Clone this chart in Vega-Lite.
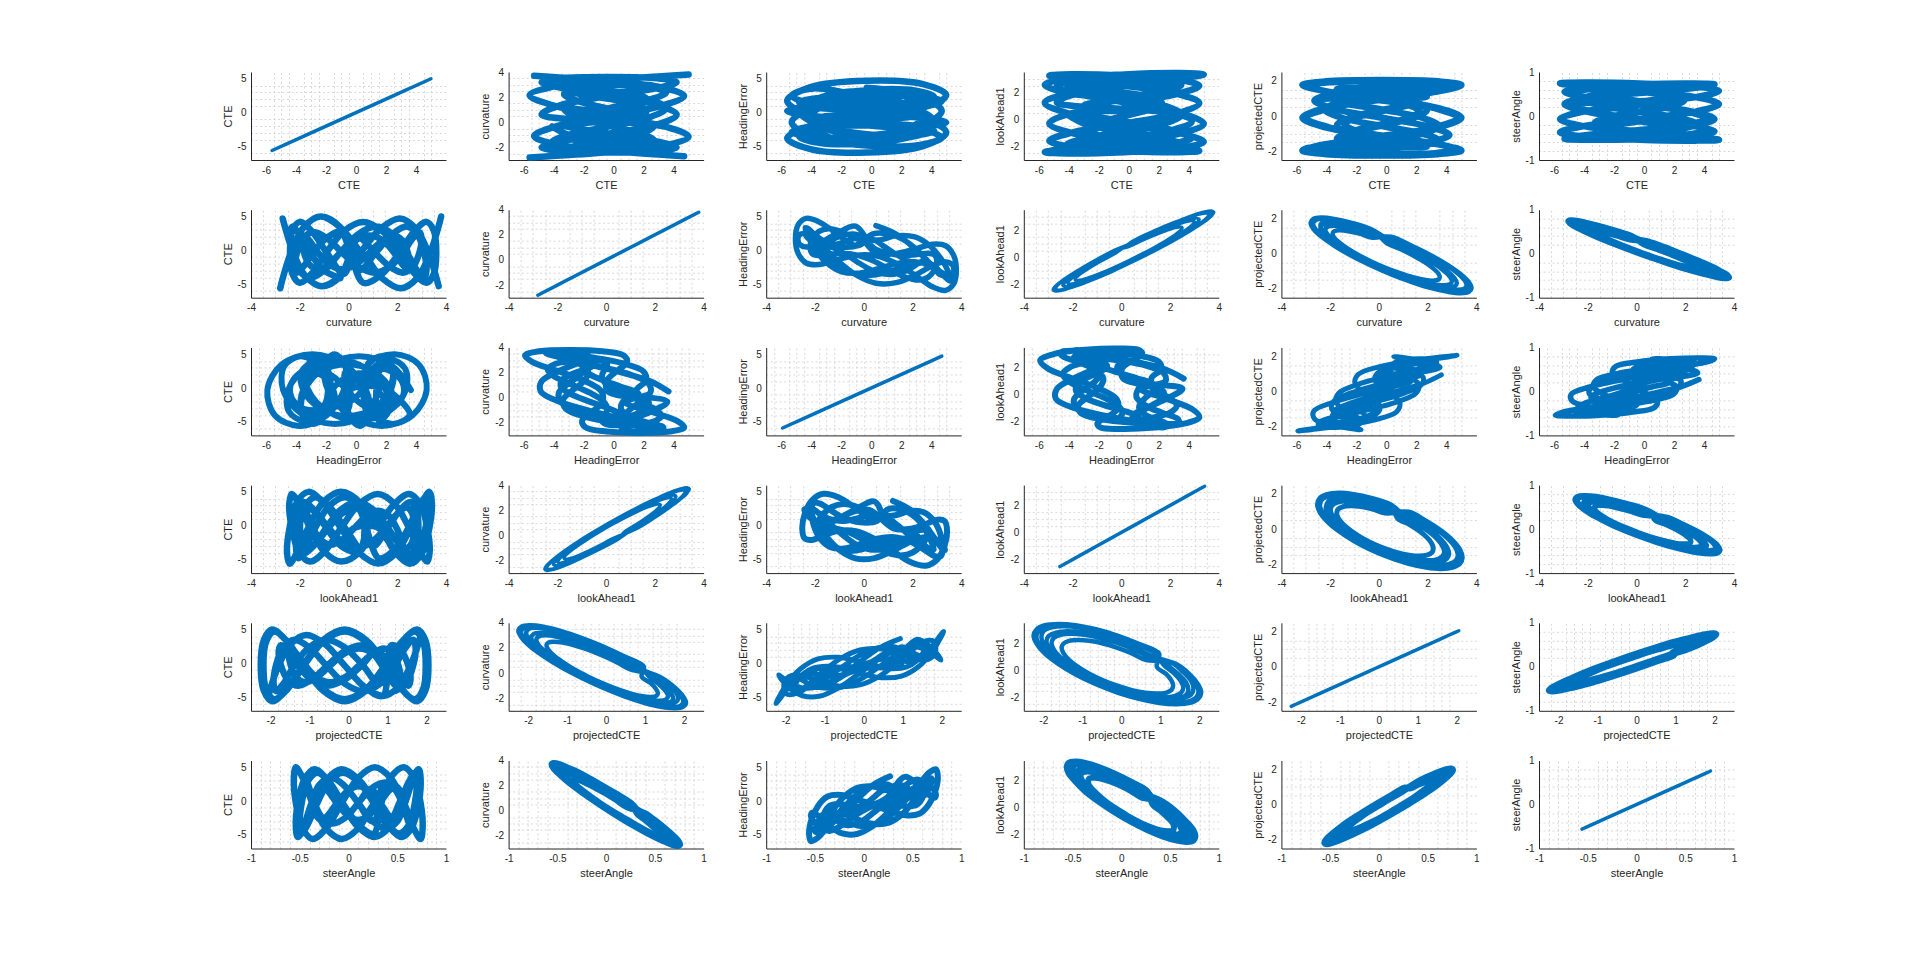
{
  "$schema": "https://vega.github.io/schema/vega-lite/v6.json",
  "background": "white",
  "padding": {"left": 222, "top": 67, "right": 10, "bottom": 10},
  "params": [
    {"name": "xm_CTE", "value": [-5.5,-5,-4.5,-3.5,-3,-2.5,-1.5,-1,-0.5,0.5,1,1.5,2.5,3,3.5,4.5,5]},
    {"name": "xm_curvature", "value": [-3.5,-3,-2.5,-1.5,-1,-0.5,0.5,1,1.5,2.5,3,3.5]},
    {"name": "xm_HeadingError", "value": [-6.5,-5.5,-5,-4.5,-3.5,-3,-2.5,-1.5,-1,-0.5,0.5,1,1.5,2.5,3,3.5,4.5,5]},
    {"name": "xm_lookAhead1", "value": [-3.5,-3,-2.5,-1.5,-1,-0.5,0.5,1,1.5,2.5,3,3.5]},
    {"name": "xm_projectedCTE", "value": [-2.2,-1.8,-1.6,-1.4,-1.2,-0.8,-0.6,-0.4,-0.2,0.2,0.4,0.6,0.8,1.2,1.4,1.6,1.8]},
    {"name": "xm_steerAngle", "value": [-0.9,-0.8,-0.7,-0.6,-0.4,-0.3,-0.2,-0.1,0.1,0.2,0.3,0.4,0.6,0.7,0.8,0.9]},
    {"name": "ym_CTE", "value": [-6,-4,-3,-2,-1,1,2,3,4]},
    {"name": "ym_curvature", "value": [-2.5,-1.5,-1,-0.5,0.5,1,1.5,2.5,3,3.5]},
    {"name": "ym_HeadingError", "value": [-6,-4,-3,-2,-1,1,2,3,4]},
    {"name": "ym_lookAhead1", "value": [-2.5,-1.5,-1,-0.5,0.5,1,1.5,2.5,3]},
    {"name": "ym_projectedCTE", "value": [-1.5,-1,-0.5,0.5,1,1.5]},
    {"name": "ym_steerAngle", "value": [-0.8,-0.6,-0.4,-0.2,0.2,0.4,0.6,0.8]},
    {"name": "xM_CTE", "value": [-6,-4,-2,0,2,4]},
    {"name": "xM_curvature", "value": [-4,-2,0,2,4]},
    {"name": "xM_HeadingError", "value": [-6,-4,-2,0,2,4]},
    {"name": "xM_lookAhead1", "value": [-4,-2,0,2,4]},
    {"name": "xM_projectedCTE", "value": [-2,-1,0,1,2]},
    {"name": "xM_steerAngle", "value": [-1,-0.5,0,0.5,1]},
    {"name": "yM_CTE", "value": [-5,0,5]},
    {"name": "yM_curvature", "value": [-2,0,2,4]},
    {"name": "yM_HeadingError", "value": [-5,0,5]},
    {"name": "yM_lookAhead1", "value": [-2,0,2]},
    {"name": "yM_projectedCTE", "value": [-2,0,2]},
    {"name": "yM_steerAngle", "value": [-1,0,1]}
  ],
  "data": {"values": [
    {"t":1,"CTE":-0.3,"curvature":0.5,"HeadingError":3.66,"lookAhead1":1.2,"projectedCTE":0.94,"steerAngle":0.27},
    {"t":2,"CTE":3.24,"curvature":1.33,"HeadingError":2.41,"lookAhead1":1.89,"projectedCTE":0.44,"steerAngle":0.1},
    {"t":3,"CTE":4.7,"curvature":2.1,"HeadingError":0.23,"lookAhead1":2.48,"projectedCTE":-0.1,"steerAngle":-0.07},
    {"t":4,"CTE":3.24,"curvature":2.76,"HeadingError":-2.01,"lookAhead1":2.94,"projectedCTE":-0.64,"steerAngle":-0.22},
    {"t":5,"CTE":-0.3,"curvature":3.27,"HeadingError":-3.43,"lookAhead1":3.23,"projectedCTE":-1.14,"steerAngle":-0.35},
    {"t":6,"CTE":-3.84,"curvature":3.59,"HeadingError":-3.61,"lookAhead1":3.33,"projectedCTE":-1.57,"steerAngle":-0.45},
    {"t":7,"CTE":-5.3,"curvature":3.7,"HeadingError":-2.86,"lookAhead1":3.23,"projectedCTE":-1.9,"steerAngle":-0.52},
    {"t":8,"CTE":-3.84,"curvature":3.59,"HeadingError":-1.96,"lookAhead1":2.94,"projectedCTE":-2.11,"steerAngle":-0.54},
    {"t":9,"CTE":-0.3,"curvature":3.27,"HeadingError":-1.69,"lookAhead1":2.48,"projectedCTE":-2.18,"steerAngle":-0.52},
    {"t":10,"CTE":3.24,"curvature":2.76,"HeadingError":-2.39,"lookAhead1":1.89,"projectedCTE":-2.11,"steerAngle":-0.45},
    {"t":11,"CTE":4.7,"curvature":2.1,"HeadingError":-3.69,"lookAhead1":1.2,"projectedCTE":-1.9,"steerAngle":-0.35},
    {"t":12,"CTE":3.24,"curvature":1.33,"HeadingError":-4.78,"lookAhead1":0.45,"projectedCTE":-1.57,"steerAngle":-0.22},
    {"t":13,"CTE":-0.3,"curvature":0.5,"HeadingError":-4.86,"lookAhead1":-0.3,"projectedCTE":-1.14,"steerAngle":-0.07},
    {"t":14,"CTE":-3.84,"curvature":-0.33,"HeadingError":-3.61,"lookAhead1":-0.99,"projectedCTE":-0.64,"steerAngle":0.1},
    {"t":15,"CTE":-5.3,"curvature":-1.1,"HeadingError":-1.43,"lookAhead1":-1.58,"projectedCTE":-0.1,"steerAngle":0.27},
    {"t":16,"CTE":-3.84,"curvature":-1.76,"HeadingError":0.81,"lookAhead1":-2.04,"projectedCTE":0.44,"steerAngle":0.42},
    {"t":17,"CTE":-0.3,"curvature":-2.27,"HeadingError":2.23,"lookAhead1":-2.33,"projectedCTE":0.94,"steerAngle":0.55},
    {"t":18,"CTE":3.24,"curvature":-2.59,"HeadingError":2.41,"lookAhead1":-2.43,"projectedCTE":1.37,"steerAngle":0.65},
    {"t":19,"CTE":4.7,"curvature":-2.7,"HeadingError":1.66,"lookAhead1":-2.33,"projectedCTE":1.7,"steerAngle":0.72},
    {"t":20,"CTE":3.24,"curvature":-2.59,"HeadingError":0.76,"lookAhead1":-2.04,"projectedCTE":1.91,"steerAngle":0.74},
    {"t":21,"CTE":-0.3,"curvature":-2.27,"HeadingError":0.49,"lookAhead1":-1.58,"projectedCTE":1.98,"steerAngle":0.72},
    {"t":22,"CTE":-3.84,"curvature":-1.76,"HeadingError":1.19,"lookAhead1":-0.99,"projectedCTE":1.91,"steerAngle":0.65},
    {"t":23,"CTE":-5.3,"curvature":-1.1,"HeadingError":2.49,"lookAhead1":-0.3,"projectedCTE":1.7,"steerAngle":0.55},
    {"t":24,"CTE":-3.84,"curvature":-0.33,"HeadingError":3.58,"lookAhead1":0.45,"projectedCTE":1.37,"steerAngle":0.42},
    {"t":25,"CTE":1.82,"curvature":0.4,"HeadingError":0.39,"lookAhead1":0.95,"projectedCTE":0.75,"steerAngle":0.23},
    {"t":26,"CTE":-0.3,"curvature":1.07,"HeadingError":-0.5,"lookAhead1":1.52,"projectedCTE":0.34,"steerAngle":0.1},
    {"t":27,"CTE":-2.42,"curvature":1.7,"HeadingError":-0.78,"lookAhead1":2.01,"projectedCTE":-0.1,"steerAngle":-0.03},
    {"t":28,"CTE":-3.3,"curvature":2.24,"HeadingError":-0.6,"lookAhead1":2.38,"projectedCTE":-0.54,"steerAngle":-0.16},
    {"t":29,"CTE":-2.42,"curvature":2.65,"HeadingError":-0.42,"lookAhead1":2.61,"projectedCTE":-0.95,"steerAngle":-0.27},
    {"t":30,"CTE":-0.3,"curvature":2.91,"HeadingError":-0.7,"lookAhead1":2.69,"projectedCTE":-1.3,"steerAngle":-0.35},
    {"t":31,"CTE":1.82,"curvature":3.0,"HeadingError":-1.59,"lookAhead1":2.61,"projectedCTE":-1.56,"steerAngle":-0.4},
    {"t":32,"CTE":2.7,"curvature":2.91,"HeadingError":-2.85,"lookAhead1":2.38,"projectedCTE":-1.73,"steerAngle":-0.42},
    {"t":33,"CTE":1.82,"curvature":2.65,"HeadingError":-3.96,"lookAhead1":2.01,"projectedCTE":-1.79,"steerAngle":-0.4},
    {"t":34,"CTE":-0.3,"curvature":2.24,"HeadingError":-4.4,"lookAhead1":1.52,"projectedCTE":-1.73,"steerAngle":-0.35},
    {"t":35,"CTE":-2.42,"curvature":1.7,"HeadingError":-3.96,"lookAhead1":0.95,"projectedCTE":-1.56,"steerAngle":-0.27},
    {"t":36,"CTE":-3.3,"curvature":1.07,"HeadingError":-2.85,"lookAhead1":0.35,"projectedCTE":-1.3,"steerAngle":-0.16},
    {"t":37,"CTE":-2.42,"curvature":0.4,"HeadingError":-1.59,"lookAhead1":-0.25,"projectedCTE":-0.95,"steerAngle":-0.03},
    {"t":38,"CTE":-0.3,"curvature":-0.27,"HeadingError":-0.7,"lookAhead1":-0.82,"projectedCTE":-0.54,"steerAngle":0.1},
    {"t":39,"CTE":1.82,"curvature":-0.9,"HeadingError":-0.42,"lookAhead1":-1.31,"projectedCTE":-0.1,"steerAngle":0.23},
    {"t":40,"CTE":2.7,"curvature":-1.44,"HeadingError":-0.6,"lookAhead1":-1.68,"projectedCTE":0.34,"steerAngle":0.36},
    {"t":41,"CTE":1.82,"curvature":-1.85,"HeadingError":-0.78,"lookAhead1":-1.91,"projectedCTE":0.75,"steerAngle":0.47},
    {"t":42,"CTE":-0.3,"curvature":-2.11,"HeadingError":-0.5,"lookAhead1":-1.99,"projectedCTE":1.1,"steerAngle":0.55},
    {"t":43,"CTE":-2.42,"curvature":-2.2,"HeadingError":0.39,"lookAhead1":-1.91,"projectedCTE":1.36,"steerAngle":0.6},
    {"t":44,"CTE":-3.3,"curvature":-2.11,"HeadingError":1.65,"lookAhead1":-1.68,"projectedCTE":1.53,"steerAngle":0.62},
    {"t":45,"CTE":-2.42,"curvature":-1.85,"HeadingError":2.76,"lookAhead1":-1.31,"projectedCTE":1.59,"steerAngle":0.6},
    {"t":46,"CTE":-0.3,"curvature":-1.44,"HeadingError":3.2,"lookAhead1":-0.82,"projectedCTE":1.53,"steerAngle":0.55},
    {"t":47,"CTE":1.82,"curvature":-0.9,"HeadingError":2.76,"lookAhead1":-0.25,"projectedCTE":1.36,"steerAngle":0.47},
    {"t":48,"CTE":2.7,"curvature":-0.27,"HeadingError":1.65,"lookAhead1":0.35,"projectedCTE":1.1,"steerAngle":0.36},
    {"t":49,"CTE":-4.8,"curvature":0.6,"HeadingError":1.52,"lookAhead1":1.25,"projectedCTE":0.88,"steerAngle":0.26},
    {"t":50,"CTE":-3.48,"curvature":1.38,"HeadingError":2.17,"lookAhead1":1.9,"projectedCTE":0.41,"steerAngle":0.1},
    {"t":51,"CTE":-0.3,"curvature":2.1,"HeadingError":1.98,"lookAhead1":2.46,"projectedCTE":-0.1,"steerAngle":-0.06},
    {"t":52,"CTE":2.88,"curvature":2.72,"HeadingError":0.67,"lookAhead1":2.89,"projectedCTE":-0.61,"steerAngle":-0.2},
    {"t":53,"CTE":4.2,"curvature":3.2,"HeadingError":-1.38,"lookAhead1":3.16,"projectedCTE":-1.08,"steerAngle":-0.32},
    {"t":54,"CTE":2.88,"curvature":3.5,"HeadingError":-3.37,"lookAhead1":3.25,"projectedCTE":-1.48,"steerAngle":-0.42},
    {"t":55,"CTE":-0.3,"curvature":3.6,"HeadingError":-4.52,"lookAhead1":3.16,"projectedCTE":-1.79,"steerAngle":-0.48},
    {"t":56,"CTE":-3.48,"curvature":3.5,"HeadingError":-4.47,"lookAhead1":2.89,"projectedCTE":-1.99,"steerAngle":-0.5},
    {"t":57,"CTE":-4.8,"curvature":3.2,"HeadingError":-3.5,"lookAhead1":2.46,"projectedCTE":-2.05,"steerAngle":-0.48},
    {"t":58,"CTE":-3.48,"curvature":2.72,"HeadingError":-2.33,"lookAhead1":1.9,"projectedCTE":-1.99,"steerAngle":-0.42},
    {"t":59,"CTE":-0.3,"curvature":2.1,"HeadingError":-1.7,"lookAhead1":1.25,"projectedCTE":-1.79,"steerAngle":-0.32},
    {"t":60,"CTE":2.88,"curvature":1.38,"HeadingError":-1.93,"lookAhead1":0.55,"projectedCTE":-1.48,"steerAngle":-0.2},
    {"t":61,"CTE":4.2,"curvature":0.6,"HeadingError":-2.72,"lookAhead1":-0.15,"projectedCTE":-1.08,"steerAngle":-0.06},
    {"t":62,"CTE":2.88,"curvature":-0.18,"HeadingError":-3.37,"lookAhead1":-0.8,"projectedCTE":-0.61,"steerAngle":0.1},
    {"t":63,"CTE":-0.3,"curvature":-0.9,"HeadingError":-3.18,"lookAhead1":-1.36,"projectedCTE":-0.1,"steerAngle":0.26},
    {"t":64,"CTE":-3.48,"curvature":-1.52,"HeadingError":-1.87,"lookAhead1":-1.79,"projectedCTE":0.41,"steerAngle":0.4},
    {"t":65,"CTE":-4.8,"curvature":-2.0,"HeadingError":0.18,"lookAhead1":-2.06,"projectedCTE":0.88,"steerAngle":0.52},
    {"t":66,"CTE":-3.48,"curvature":-2.3,"HeadingError":2.17,"lookAhead1":-2.15,"projectedCTE":1.28,"steerAngle":0.62},
    {"t":67,"CTE":-0.3,"curvature":-2.4,"HeadingError":3.32,"lookAhead1":-2.06,"projectedCTE":1.59,"steerAngle":0.68},
    {"t":68,"CTE":2.88,"curvature":-2.3,"HeadingError":3.27,"lookAhead1":-1.79,"projectedCTE":1.79,"steerAngle":0.7},
    {"t":69,"CTE":4.2,"curvature":-2.0,"HeadingError":2.3,"lookAhead1":-1.36,"projectedCTE":1.85,"steerAngle":0.68},
    {"t":70,"CTE":2.88,"curvature":-1.52,"HeadingError":1.13,"lookAhead1":-0.8,"projectedCTE":1.79,"steerAngle":0.62},
    {"t":71,"CTE":-0.3,"curvature":-0.9,"HeadingError":0.5,"lookAhead1":-0.15,"projectedCTE":1.59,"steerAngle":0.52},
    {"t":72,"CTE":-3.48,"curvature":-0.18,"HeadingError":0.73,"lookAhead1":0.55,"projectedCTE":1.28,"steerAngle":0.4},
    {"t":73,"CTE":1.47,"curvature":0.3,"HeadingError":1.67,"lookAhead1":0.76,"projectedCTE":0.62,"steerAngle":0.21},
    {"t":74,"CTE":2.2,"curvature":0.87,"HeadingError":0.5,"lookAhead1":1.24,"projectedCTE":0.27,"steerAngle":0.1},
    {"t":75,"CTE":1.47,"curvature":1.4,"HeadingError":-0.74,"lookAhead1":1.65,"projectedCTE":-0.1,"steerAngle":-0.01},
    {"t":76,"CTE":-0.3,"curvature":1.86,"HeadingError":-1.6,"lookAhead1":1.97,"projectedCTE":-0.47,"steerAngle":-0.12},
    {"t":77,"CTE":-2.07,"curvature":2.21,"HeadingError":-1.88,"lookAhead1":2.17,"projectedCTE":-0.82,"steerAngle":-0.21},
    {"t":78,"CTE":-2.8,"curvature":2.43,"HeadingError":-1.7,"lookAhead1":2.23,"projectedCTE":-1.11,"steerAngle":-0.28},
    {"t":79,"CTE":-2.07,"curvature":2.5,"HeadingError":-1.45,"lookAhead1":2.17,"projectedCTE":-1.34,"steerAngle":-0.33},
    {"t":80,"CTE":-0.3,"curvature":2.43,"HeadingError":-1.51,"lookAhead1":1.97,"projectedCTE":-1.48,"steerAngle":-0.34},
    {"t":81,"CTE":1.47,"curvature":2.21,"HeadingError":-2.02,"lookAhead1":1.65,"projectedCTE":-1.53,"steerAngle":-0.33},
    {"t":82,"CTE":2.2,"curvature":1.86,"HeadingError":-2.8,"lookAhead1":1.24,"projectedCTE":-1.48,"steerAngle":-0.28},
    {"t":83,"CTE":1.47,"curvature":1.4,"HeadingError":-3.44,"lookAhead1":0.76,"projectedCTE":-1.34,"steerAngle":-0.21},
    {"t":84,"CTE":-0.3,"curvature":0.87,"HeadingError":-3.51,"lookAhead1":0.25,"projectedCTE":-1.11,"steerAngle":-0.12},
    {"t":85,"CTE":-2.07,"curvature":0.3,"HeadingError":-2.87,"lookAhead1":-0.26,"projectedCTE":-0.82,"steerAngle":-0.01},
    {"t":86,"CTE":-2.8,"curvature":-0.27,"HeadingError":-1.7,"lookAhead1":-0.74,"projectedCTE":-0.47,"steerAngle":0.1},
    {"t":87,"CTE":-2.07,"curvature":-0.8,"HeadingError":-0.46,"lookAhead1":-1.15,"projectedCTE":-0.1,"steerAngle":0.21},
    {"t":88,"CTE":-0.3,"curvature":-1.26,"HeadingError":0.4,"lookAhead1":-1.47,"projectedCTE":0.27,"steerAngle":0.32},
    {"t":89,"CTE":1.47,"curvature":-1.61,"HeadingError":0.68,"lookAhead1":-1.67,"projectedCTE":0.62,"steerAngle":0.41},
    {"t":90,"CTE":2.2,"curvature":-1.83,"HeadingError":0.5,"lookAhead1":-1.73,"projectedCTE":0.91,"steerAngle":0.48},
    {"t":91,"CTE":1.47,"curvature":-1.9,"HeadingError":0.25,"lookAhead1":-1.67,"projectedCTE":1.14,"steerAngle":0.53},
    {"t":92,"CTE":-0.3,"curvature":-1.83,"HeadingError":0.31,"lookAhead1":-1.47,"projectedCTE":1.28,"steerAngle":0.54},
    {"t":93,"CTE":-2.07,"curvature":-1.61,"HeadingError":0.82,"lookAhead1":-1.15,"projectedCTE":1.33,"steerAngle":0.53},
    {"t":94,"CTE":-2.8,"curvature":-1.26,"HeadingError":1.6,"lookAhead1":-0.74,"projectedCTE":1.28,"steerAngle":0.48},
    {"t":95,"CTE":-2.07,"curvature":-0.8,"HeadingError":2.24,"lookAhead1":-0.26,"projectedCTE":1.14,"steerAngle":0.41},
    {"t":96,"CTE":-0.3,"curvature":-0.27,"HeadingError":2.31,"lookAhead1":0.25,"projectedCTE":0.91,"steerAngle":0.32},
    {"t":97,"CTE":-0.3,"curvature":0.5,"HeadingError":-0.39,"lookAhead1":1.22,"projectedCTE":0.97,"steerAngle":0.27},
    {"t":98,"CTE":-4.05,"curvature":1.35,"HeadingError":-0.45,"lookAhead1":1.94,"projectedCTE":0.45,"steerAngle":0.1},
    {"t":99,"CTE":-5.6,"curvature":2.15,"HeadingError":0.25,"lookAhead1":2.55,"projectedCTE":-0.1,"steerAngle":-0.07},
    {"t":100,"CTE":-4.05,"curvature":2.83,"HeadingError":0.9,"lookAhead1":3.02,"projectedCTE":-0.65,"steerAngle":-0.23},
    {"t":101,"CTE":-0.3,"curvature":3.36,"HeadingError":0.67,"lookAhead1":3.32,"projectedCTE":-1.17,"steerAngle":-0.37},
    {"t":102,"CTE":3.45,"curvature":3.69,"HeadingError":-0.75,"lookAhead1":3.42,"projectedCTE":-1.61,"steerAngle":-0.47},
    {"t":103,"CTE":5.0,"curvature":3.8,"HeadingError":-2.93,"lookAhead1":3.32,"projectedCTE":-1.96,"steerAngle":-0.54},
    {"t":104,"CTE":3.45,"curvature":3.69,"HeadingError":-4.96,"lookAhead1":3.02,"projectedCTE":-2.17,"steerAngle":-0.56},
    {"t":105,"CTE":-0.3,"curvature":3.36,"HeadingError":-5.91,"lookAhead1":2.55,"projectedCTE":-2.25,"steerAngle":-0.54},
    {"t":106,"CTE":-4.05,"curvature":2.83,"HeadingError":-5.4,"lookAhead1":1.94,"projectedCTE":-2.17,"steerAngle":-0.47},
    {"t":107,"CTE":-5.6,"curvature":2.15,"HeadingError":-3.79,"lookAhead1":1.22,"projectedCTE":-1.96,"steerAngle":-0.37},
    {"t":108,"CTE":-4.05,"curvature":1.35,"HeadingError":-1.96,"lookAhead1":0.45,"projectedCTE":-1.61,"steerAngle":-0.23},
    {"t":109,"CTE":-0.3,"curvature":0.5,"HeadingError":-0.81,"lookAhead1":-0.32,"projectedCTE":-1.17,"steerAngle":-0.07},
    {"t":110,"CTE":3.45,"curvature":-0.35,"HeadingError":-0.75,"lookAhead1":-1.04,"projectedCTE":-0.65,"steerAngle":0.1},
    {"t":111,"CTE":5.0,"curvature":-1.15,"HeadingError":-1.45,"lookAhead1":-1.65,"projectedCTE":-0.1,"steerAngle":0.27},
    {"t":112,"CTE":3.45,"curvature":-1.83,"HeadingError":-2.1,"lookAhead1":-2.12,"projectedCTE":0.45,"steerAngle":0.43},
    {"t":113,"CTE":-0.3,"curvature":-2.36,"HeadingError":-1.87,"lookAhead1":-2.42,"projectedCTE":0.97,"steerAngle":0.57},
    {"t":114,"CTE":-4.05,"curvature":-2.69,"HeadingError":-0.45,"lookAhead1":-2.52,"projectedCTE":1.41,"steerAngle":0.67},
    {"t":115,"CTE":-5.6,"curvature":-2.8,"HeadingError":1.73,"lookAhead1":-2.42,"projectedCTE":1.76,"steerAngle":0.74},
    {"t":116,"CTE":-4.05,"curvature":-2.69,"HeadingError":3.76,"lookAhead1":-2.12,"projectedCTE":1.97,"steerAngle":0.76},
    {"t":117,"CTE":-0.3,"curvature":-2.36,"HeadingError":4.71,"lookAhead1":-1.65,"projectedCTE":2.05,"steerAngle":0.74},
    {"t":118,"CTE":3.45,"curvature":-1.83,"HeadingError":4.2,"lookAhead1":-1.04,"projectedCTE":1.97,"steerAngle":0.67},
    {"t":119,"CTE":5.0,"curvature":-1.15,"HeadingError":2.59,"lookAhead1":-0.32,"projectedCTE":1.76,"steerAngle":0.57},
    {"t":120,"CTE":3.45,"curvature":-0.35,"HeadingError":0.76,"lookAhead1":0.45,"projectedCTE":1.41,"steerAngle":0.43},
    {"t":121,"CTE":-2.99,"curvature":0.4,"HeadingError":2.45,"lookAhead1":1.01,"projectedCTE":0.81,"steerAngle":0.25},
    {"t":122,"CTE":-0.3,"curvature":1.13,"HeadingError":2.32,"lookAhead1":1.61,"projectedCTE":0.37,"steerAngle":0.1},
    {"t":123,"CTE":2.39,"curvature":1.8,"HeadingError":1.2,"lookAhead1":2.13,"projectedCTE":-0.1,"steerAngle":-0.05},
    {"t":124,"CTE":3.5,"curvature":2.38,"HeadingError":-0.6,"lookAhead1":2.53,"projectedCTE":-0.57,"steerAngle":-0.18},
    {"t":125,"CTE":2.39,"curvature":2.82,"HeadingError":-2.4,"lookAhead1":2.78,"projectedCTE":-1.01,"steerAngle":-0.3},
    {"t":126,"CTE":-0.3,"curvature":3.1,"HeadingError":-3.52,"lookAhead1":2.87,"projectedCTE":-1.39,"steerAngle":-0.38},
    {"t":127,"CTE":-2.99,"curvature":3.2,"HeadingError":-3.65,"lookAhead1":2.78,"projectedCTE":-1.67,"steerAngle":-0.44},
    {"t":128,"CTE":-4.1,"curvature":3.1,"HeadingError":-3.02,"lookAhead1":2.53,"projectedCTE":-1.86,"steerAngle":-0.46},
    {"t":129,"CTE":-2.99,"curvature":2.82,"HeadingError":-2.23,"lookAhead1":2.13,"projectedCTE":-1.92,"steerAngle":-0.44},
    {"t":130,"CTE":-0.3,"curvature":2.38,"HeadingError":-1.88,"lookAhead1":1.61,"projectedCTE":-1.86,"steerAngle":-0.38},
    {"t":131,"CTE":2.39,"curvature":1.8,"HeadingError":-2.23,"lookAhead1":1.01,"projectedCTE":-1.67,"steerAngle":-0.3},
    {"t":132,"CTE":3.5,"curvature":1.13,"HeadingError":-3.02,"lookAhead1":0.35,"projectedCTE":-1.39,"steerAngle":-0.18},
    {"t":133,"CTE":2.39,"curvature":0.4,"HeadingError":-3.65,"lookAhead1":-0.31,"projectedCTE":-1.01,"steerAngle":-0.05},
    {"t":134,"CTE":-0.3,"curvature":-0.33,"HeadingError":-3.52,"lookAhead1":-0.91,"projectedCTE":-0.57,"steerAngle":0.1},
    {"t":135,"CTE":-2.99,"curvature":-1.0,"HeadingError":-2.4,"lookAhead1":-1.43,"projectedCTE":-0.1,"steerAngle":0.25},
    {"t":136,"CTE":-4.1,"curvature":-1.58,"HeadingError":-0.6,"lookAhead1":-1.83,"projectedCTE":0.37,"steerAngle":0.38},
    {"t":137,"CTE":-2.99,"curvature":-2.02,"HeadingError":1.2,"lookAhead1":-2.08,"projectedCTE":0.81,"steerAngle":0.5},
    {"t":138,"CTE":-0.3,"curvature":-2.3,"HeadingError":2.32,"lookAhead1":-2.17,"projectedCTE":1.19,"steerAngle":0.58},
    {"t":139,"CTE":2.39,"curvature":-2.4,"HeadingError":2.45,"lookAhead1":-2.08,"projectedCTE":1.47,"steerAngle":0.64},
    {"t":140,"CTE":3.5,"curvature":-2.3,"HeadingError":1.82,"lookAhead1":-1.83,"projectedCTE":1.66,"steerAngle":0.66},
    {"t":141,"CTE":2.39,"curvature":-2.02,"HeadingError":1.03,"lookAhead1":-1.43,"projectedCTE":1.72,"steerAngle":0.64},
    {"t":142,"CTE":-0.3,"curvature":-1.58,"HeadingError":0.68,"lookAhead1":-0.91,"projectedCTE":1.66,"steerAngle":0.58},
    {"t":143,"CTE":-2.99,"curvature":-1.0,"HeadingError":1.03,"lookAhead1":-0.31,"projectedCTE":1.47,"steerAngle":0.5},
    {"t":144,"CTE":-4.1,"curvature":-0.33,"HeadingError":1.82,"lookAhead1":0.35,"projectedCTE":1.19,"steerAngle":0.38}
  ]},
  "columns": 6,
  "spacing": {"row": 49.7, "column": 62.6},
  "bounds": "flush",
  "concat": [
    {"layer":[{"mark":{"type":"point","opacity":0},"encoding":{"x":{"field":"CTE","type":"quantitative","scale":{"domain":[-6.15,5.05]},"title":null,"axis":{"orient":"top","values":{"expr":"xm_CTE"}}},"y":{"field":"CTE","type":"quantitative","scale":{"domain":[-6.15,5.05]},"title":null,"axis":{"orient":"right","values":{"expr":"ym_CTE"}}}}},{"mark":{"type":"line","strokeWidth":3.4},"encoding":{"x":{"field":"CTE","type":"quantitative","axis":{"values":{"expr":"xM_CTE"}}},"y":{"field":"CTE","type":"quantitative","axis":{"values":{"expr":"yM_CTE"}}},"order":{"field":"t","type":"quantitative"}}}],"resolve":{"axis":{"x":"independent","y":"independent"}}},
    {"layer":[{"mark":{"type":"point","opacity":0},"encoding":{"x":{"field":"CTE","type":"quantitative","scale":{"domain":[-6.15,5.05]},"title":null,"axis":{"orient":"top","values":{"expr":"xm_CTE"}}},"y":{"field":"curvature","type":"quantitative","scale":{"domain":[-2.8,4]},"title":null,"axis":{"orient":"right","values":{"expr":"ym_curvature"}}}}},{"mark":{"type":"line","strokeWidth":6.5},"encoding":{"x":{"field":"CTE","type":"quantitative","axis":{"values":{"expr":"xM_CTE"}}},"y":{"field":"curvature","type":"quantitative","axis":{"values":{"expr":"yM_curvature"}}},"order":{"field":"t","type":"quantitative"}}}],"resolve":{"axis":{"x":"independent","y":"independent"}}},
    {"layer":[{"mark":{"type":"point","opacity":0},"encoding":{"x":{"field":"CTE","type":"quantitative","scale":{"domain":[-6.15,5.05]},"title":null,"axis":{"orient":"top","values":{"expr":"xm_CTE"}}},"y":{"field":"HeadingError","type":"quantitative","scale":{"domain":[-6.5,5.15]},"title":null,"axis":{"orient":"right","values":{"expr":"ym_HeadingError"}}}}},{"mark":{"type":"line","strokeWidth":6.5},"encoding":{"x":{"field":"CTE","type":"quantitative","axis":{"values":{"expr":"xM_CTE"}}},"y":{"field":"HeadingError","type":"quantitative","axis":{"values":{"expr":"yM_HeadingError"}}},"order":{"field":"t","type":"quantitative"}}}],"resolve":{"axis":{"x":"independent","y":"independent"}}},
    {"layer":[{"mark":{"type":"point","opacity":0},"encoding":{"x":{"field":"CTE","type":"quantitative","scale":{"domain":[-6.15,5.05]},"title":null,"axis":{"orient":"top","values":{"expr":"xm_CTE"}}},"y":{"field":"lookAhead1","type":"quantitative","scale":{"domain":[-2.55,3.45]},"title":null,"axis":{"orient":"right","values":{"expr":"ym_lookAhead1"}}}}},{"mark":{"type":"line","strokeWidth":6.5},"encoding":{"x":{"field":"CTE","type":"quantitative","axis":{"values":{"expr":"xM_CTE"}}},"y":{"field":"lookAhead1","type":"quantitative","axis":{"values":{"expr":"yM_lookAhead1"}}},"order":{"field":"t","type":"quantitative"}}}],"resolve":{"axis":{"x":"independent","y":"independent"}}},
    {"layer":[{"mark":{"type":"point","opacity":0},"encoding":{"x":{"field":"CTE","type":"quantitative","scale":{"domain":[-6.15,5.05]},"title":null,"axis":{"orient":"top","values":{"expr":"xm_CTE"}}},"y":{"field":"projectedCTE","type":"quantitative","scale":{"domain":[-2.35,2.1]},"title":null,"axis":{"orient":"right","values":{"expr":"ym_projectedCTE"}}}}},{"mark":{"type":"line","strokeWidth":6.5},"encoding":{"x":{"field":"CTE","type":"quantitative","axis":{"values":{"expr":"xM_CTE"}}},"y":{"field":"projectedCTE","type":"quantitative","axis":{"values":{"expr":"yM_projectedCTE"}}},"order":{"field":"t","type":"quantitative"}}}],"resolve":{"axis":{"x":"independent","y":"independent"}}},
    {"layer":[{"mark":{"type":"point","opacity":0},"encoding":{"x":{"field":"CTE","type":"quantitative","scale":{"domain":[-6.15,5.05]},"title":null,"axis":{"orient":"top","values":{"expr":"xm_CTE"}}},"y":{"field":"steerAngle","type":"quantitative","scale":{"domain":[-1,1]},"title":null,"axis":{"orient":"right","values":{"expr":"ym_steerAngle"}}}}},{"mark":{"type":"line","strokeWidth":6.5},"encoding":{"x":{"field":"CTE","type":"quantitative","axis":{"values":{"expr":"xM_CTE"}}},"y":{"field":"steerAngle","type":"quantitative","axis":{"values":{"expr":"yM_steerAngle"}}},"order":{"field":"t","type":"quantitative"}}}],"resolve":{"axis":{"x":"independent","y":"independent"}}},

    {"layer":[{"mark":{"type":"point","opacity":0},"encoding":{"x":{"field":"curvature","type":"quantitative","scale":{"domain":[-4,4]},"title":null,"axis":{"orient":"top","values":{"expr":"xm_curvature"}}},"y":{"field":"CTE","type":"quantitative","scale":{"domain":[-6.15,5.05]},"title":null,"axis":{"orient":"right","values":{"expr":"ym_CTE"}}}}},{"mark":{"type":"line","strokeWidth":6.5},"encoding":{"x":{"field":"curvature","type":"quantitative","axis":{"values":{"expr":"xM_curvature"}}},"y":{"field":"CTE","type":"quantitative","axis":{"values":{"expr":"yM_CTE"}}},"order":{"field":"t","type":"quantitative"}}}],"resolve":{"axis":{"x":"independent","y":"independent"}}},
    {"layer":[{"mark":{"type":"point","opacity":0},"encoding":{"x":{"field":"curvature","type":"quantitative","scale":{"domain":[-4,4]},"title":null,"axis":{"orient":"top","values":{"expr":"xm_curvature"}}},"y":{"field":"curvature","type":"quantitative","scale":{"domain":[-2.8,4]},"title":null,"axis":{"orient":"right","values":{"expr":"ym_curvature"}}}}},{"mark":{"type":"line","strokeWidth":3.4},"encoding":{"x":{"field":"curvature","type":"quantitative","axis":{"values":{"expr":"xM_curvature"}}},"y":{"field":"curvature","type":"quantitative","axis":{"values":{"expr":"yM_curvature"}}},"order":{"field":"t","type":"quantitative"}}}],"resolve":{"axis":{"x":"independent","y":"independent"}}},
    {"layer":[{"mark":{"type":"point","opacity":0},"encoding":{"x":{"field":"curvature","type":"quantitative","scale":{"domain":[-4,4]},"title":null,"axis":{"orient":"top","values":{"expr":"xm_curvature"}}},"y":{"field":"HeadingError","type":"quantitative","scale":{"domain":[-6.5,5.15]},"title":null,"axis":{"orient":"right","values":{"expr":"ym_HeadingError"}}}}},{"mark":{"type":"line","strokeWidth":5.5},"encoding":{"x":{"field":"curvature","type":"quantitative","axis":{"values":{"expr":"xM_curvature"}}},"y":{"field":"HeadingError","type":"quantitative","axis":{"values":{"expr":"yM_HeadingError"}}},"order":{"field":"t","type":"quantitative"}}}],"resolve":{"axis":{"x":"independent","y":"independent"}}},
    {"layer":[{"mark":{"type":"point","opacity":0},"encoding":{"x":{"field":"curvature","type":"quantitative","scale":{"domain":[-4,4]},"title":null,"axis":{"orient":"top","values":{"expr":"xm_curvature"}}},"y":{"field":"lookAhead1","type":"quantitative","scale":{"domain":[-2.55,3.45]},"title":null,"axis":{"orient":"right","values":{"expr":"ym_lookAhead1"}}}}},{"mark":{"type":"line","strokeWidth":3.2},"encoding":{"x":{"field":"curvature","type":"quantitative","axis":{"values":{"expr":"xM_curvature"}}},"y":{"field":"lookAhead1","type":"quantitative","axis":{"values":{"expr":"yM_lookAhead1"}}},"order":{"field":"t","type":"quantitative"}}}],"resolve":{"axis":{"x":"independent","y":"independent"}}},
    {"layer":[{"mark":{"type":"point","opacity":0},"encoding":{"x":{"field":"curvature","type":"quantitative","scale":{"domain":[-4,4]},"title":null,"axis":{"orient":"top","values":{"expr":"xm_curvature"}}},"y":{"field":"projectedCTE","type":"quantitative","scale":{"domain":[-2.35,2.1]},"title":null,"axis":{"orient":"right","values":{"expr":"ym_projectedCTE"}}}}},{"mark":{"type":"line","strokeWidth":4.5},"encoding":{"x":{"field":"curvature","type":"quantitative","axis":{"values":{"expr":"xM_curvature"}}},"y":{"field":"projectedCTE","type":"quantitative","axis":{"values":{"expr":"yM_projectedCTE"}}},"order":{"field":"t","type":"quantitative"}}}],"resolve":{"axis":{"x":"independent","y":"independent"}}},
    {"layer":[{"mark":{"type":"point","opacity":0},"encoding":{"x":{"field":"curvature","type":"quantitative","scale":{"domain":[-4,4]},"title":null,"axis":{"orient":"top","values":{"expr":"xm_curvature"}}},"y":{"field":"steerAngle","type":"quantitative","scale":{"domain":[-1,1]},"title":null,"axis":{"orient":"right","values":{"expr":"ym_steerAngle"}}}}},{"mark":{"type":"line","strokeWidth":6},"encoding":{"x":{"field":"curvature","type":"quantitative","axis":{"values":{"expr":"xM_curvature"}}},"y":{"field":"steerAngle","type":"quantitative","axis":{"values":{"expr":"yM_steerAngle"}}},"order":{"field":"t","type":"quantitative"}}}],"resolve":{"axis":{"x":"independent","y":"independent"}}},

    {"layer":[{"mark":{"type":"point","opacity":0},"encoding":{"x":{"field":"HeadingError","type":"quantitative","scale":{"domain":[-6.5,5.15]},"title":null,"axis":{"orient":"top","values":{"expr":"xm_HeadingError"}}},"y":{"field":"CTE","type":"quantitative","scale":{"domain":[-6.15,5.05]},"title":null,"axis":{"orient":"right","values":{"expr":"ym_CTE"}}}}},{"mark":{"type":"line","strokeWidth":6},"encoding":{"x":{"field":"HeadingError","type":"quantitative","axis":{"values":{"expr":"xM_HeadingError"}}},"y":{"field":"CTE","type":"quantitative","axis":{"values":{"expr":"yM_CTE"}}},"order":{"field":"t","type":"quantitative"}}}],"resolve":{"axis":{"x":"independent","y":"independent"}}},
    {"layer":[{"mark":{"type":"point","opacity":0},"encoding":{"x":{"field":"HeadingError","type":"quantitative","scale":{"domain":[-6.5,5.15]},"title":null,"axis":{"orient":"top","values":{"expr":"xm_HeadingError"}}},"y":{"field":"curvature","type":"quantitative","scale":{"domain":[-2.8,4]},"title":null,"axis":{"orient":"right","values":{"expr":"ym_curvature"}}}}},{"mark":{"type":"line","strokeWidth":6},"encoding":{"x":{"field":"HeadingError","type":"quantitative","axis":{"values":{"expr":"xM_HeadingError"}}},"y":{"field":"curvature","type":"quantitative","axis":{"values":{"expr":"yM_curvature"}}},"order":{"field":"t","type":"quantitative"}}}],"resolve":{"axis":{"x":"independent","y":"independent"}}},
    {"layer":[{"mark":{"type":"point","opacity":0},"encoding":{"x":{"field":"HeadingError","type":"quantitative","scale":{"domain":[-6.5,5.15]},"title":null,"axis":{"orient":"top","values":{"expr":"xm_HeadingError"}}},"y":{"field":"HeadingError","type":"quantitative","scale":{"domain":[-6.5,5.15]},"title":null,"axis":{"orient":"right","values":{"expr":"ym_HeadingError"}}}}},{"mark":{"type":"line","strokeWidth":3.4},"encoding":{"x":{"field":"HeadingError","type":"quantitative","axis":{"values":{"expr":"xM_HeadingError"}}},"y":{"field":"HeadingError","type":"quantitative","axis":{"values":{"expr":"yM_HeadingError"}}},"order":{"field":"t","type":"quantitative"}}}],"resolve":{"axis":{"x":"independent","y":"independent"}}},
    {"layer":[{"mark":{"type":"point","opacity":0},"encoding":{"x":{"field":"HeadingError","type":"quantitative","scale":{"domain":[-6.5,5.15]},"title":null,"axis":{"orient":"top","values":{"expr":"xm_HeadingError"}}},"y":{"field":"lookAhead1","type":"quantitative","scale":{"domain":[-2.55,3.45]},"title":null,"axis":{"orient":"right","values":{"expr":"ym_lookAhead1"}}}}},{"mark":{"type":"line","strokeWidth":6},"encoding":{"x":{"field":"HeadingError","type":"quantitative","axis":{"values":{"expr":"xM_HeadingError"}}},"y":{"field":"lookAhead1","type":"quantitative","axis":{"values":{"expr":"yM_lookAhead1"}}},"order":{"field":"t","type":"quantitative"}}}],"resolve":{"axis":{"x":"independent","y":"independent"}}},
    {"layer":[{"mark":{"type":"point","opacity":0},"encoding":{"x":{"field":"HeadingError","type":"quantitative","scale":{"domain":[-6.5,5.15]},"title":null,"axis":{"orient":"top","values":{"expr":"xm_HeadingError"}}},"y":{"field":"projectedCTE","type":"quantitative","scale":{"domain":[-2.35,2.1]},"title":null,"axis":{"orient":"right","values":{"expr":"ym_projectedCTE"}}}}},{"mark":{"type":"line","strokeWidth":5},"encoding":{"x":{"field":"HeadingError","type":"quantitative","axis":{"values":{"expr":"xM_HeadingError"}}},"y":{"field":"projectedCTE","type":"quantitative","axis":{"values":{"expr":"yM_projectedCTE"}}},"order":{"field":"t","type":"quantitative"}}}],"resolve":{"axis":{"x":"independent","y":"independent"}}},
    {"layer":[{"mark":{"type":"point","opacity":0},"encoding":{"x":{"field":"HeadingError","type":"quantitative","scale":{"domain":[-6.5,5.15]},"title":null,"axis":{"orient":"top","values":{"expr":"xm_HeadingError"}}},"y":{"field":"steerAngle","type":"quantitative","scale":{"domain":[-1,1]},"title":null,"axis":{"orient":"right","values":{"expr":"ym_steerAngle"}}}}},{"mark":{"type":"line","strokeWidth":5.5},"encoding":{"x":{"field":"HeadingError","type":"quantitative","axis":{"values":{"expr":"xM_HeadingError"}}},"y":{"field":"steerAngle","type":"quantitative","axis":{"values":{"expr":"yM_steerAngle"}}},"order":{"field":"t","type":"quantitative"}}}],"resolve":{"axis":{"x":"independent","y":"independent"}}},

    {"layer":[{"mark":{"type":"point","opacity":0},"encoding":{"x":{"field":"lookAhead1","type":"quantitative","scale":{"domain":[-4,4]},"title":null,"axis":{"orient":"top","values":{"expr":"xm_lookAhead1"}}},"y":{"field":"CTE","type":"quantitative","scale":{"domain":[-6.15,5.05]},"title":null,"axis":{"orient":"right","values":{"expr":"ym_CTE"}}}}},{"mark":{"type":"line","strokeWidth":6.5},"encoding":{"x":{"field":"lookAhead1","type":"quantitative","axis":{"values":{"expr":"xM_lookAhead1"}}},"y":{"field":"CTE","type":"quantitative","axis":{"values":{"expr":"yM_CTE"}}},"order":{"field":"t","type":"quantitative"}}}],"resolve":{"axis":{"x":"independent","y":"independent"}}},
    {"layer":[{"mark":{"type":"point","opacity":0},"encoding":{"x":{"field":"lookAhead1","type":"quantitative","scale":{"domain":[-4,4]},"title":null,"axis":{"orient":"top","values":{"expr":"xm_lookAhead1"}}},"y":{"field":"curvature","type":"quantitative","scale":{"domain":[-2.8,4]},"title":null,"axis":{"orient":"right","values":{"expr":"ym_curvature"}}}}},{"mark":{"type":"line","strokeWidth":3.2},"encoding":{"x":{"field":"lookAhead1","type":"quantitative","axis":{"values":{"expr":"xM_lookAhead1"}}},"y":{"field":"curvature","type":"quantitative","axis":{"values":{"expr":"yM_curvature"}}},"order":{"field":"t","type":"quantitative"}}}],"resolve":{"axis":{"x":"independent","y":"independent"}}},
    {"layer":[{"mark":{"type":"point","opacity":0},"encoding":{"x":{"field":"lookAhead1","type":"quantitative","scale":{"domain":[-4,4]},"title":null,"axis":{"orient":"top","values":{"expr":"xm_lookAhead1"}}},"y":{"field":"HeadingError","type":"quantitative","scale":{"domain":[-6.5,5.15]},"title":null,"axis":{"orient":"right","values":{"expr":"ym_HeadingError"}}}}},{"mark":{"type":"line","strokeWidth":6},"encoding":{"x":{"field":"lookAhead1","type":"quantitative","axis":{"values":{"expr":"xM_lookAhead1"}}},"y":{"field":"HeadingError","type":"quantitative","axis":{"values":{"expr":"yM_HeadingError"}}},"order":{"field":"t","type":"quantitative"}}}],"resolve":{"axis":{"x":"independent","y":"independent"}}},
    {"layer":[{"mark":{"type":"point","opacity":0},"encoding":{"x":{"field":"lookAhead1","type":"quantitative","scale":{"domain":[-4,4]},"title":null,"axis":{"orient":"top","values":{"expr":"xm_lookAhead1"}}},"y":{"field":"lookAhead1","type":"quantitative","scale":{"domain":[-2.55,3.45]},"title":null,"axis":{"orient":"right","values":{"expr":"ym_lookAhead1"}}}}},{"mark":{"type":"line","strokeWidth":3.4},"encoding":{"x":{"field":"lookAhead1","type":"quantitative","axis":{"values":{"expr":"xM_lookAhead1"}}},"y":{"field":"lookAhead1","type":"quantitative","axis":{"values":{"expr":"yM_lookAhead1"}}},"order":{"field":"t","type":"quantitative"}}}],"resolve":{"axis":{"x":"independent","y":"independent"}}},
    {"layer":[{"mark":{"type":"point","opacity":0},"encoding":{"x":{"field":"lookAhead1","type":"quantitative","scale":{"domain":[-4,4]},"title":null,"axis":{"orient":"top","values":{"expr":"xm_lookAhead1"}}},"y":{"field":"projectedCTE","type":"quantitative","scale":{"domain":[-2.35,2.1]},"title":null,"axis":{"orient":"right","values":{"expr":"ym_projectedCTE"}}}}},{"mark":{"type":"line","strokeWidth":5},"encoding":{"x":{"field":"lookAhead1","type":"quantitative","axis":{"values":{"expr":"xM_lookAhead1"}}},"y":{"field":"projectedCTE","type":"quantitative","axis":{"values":{"expr":"yM_projectedCTE"}}},"order":{"field":"t","type":"quantitative"}}}],"resolve":{"axis":{"x":"independent","y":"independent"}}},
    {"layer":[{"mark":{"type":"point","opacity":0},"encoding":{"x":{"field":"lookAhead1","type":"quantitative","scale":{"domain":[-4,4]},"title":null,"axis":{"orient":"top","values":{"expr":"xm_lookAhead1"}}},"y":{"field":"steerAngle","type":"quantitative","scale":{"domain":[-1,1]},"title":null,"axis":{"orient":"right","values":{"expr":"ym_steerAngle"}}}}},{"mark":{"type":"line","strokeWidth":5.5},"encoding":{"x":{"field":"lookAhead1","type":"quantitative","axis":{"values":{"expr":"xM_lookAhead1"}}},"y":{"field":"steerAngle","type":"quantitative","axis":{"values":{"expr":"yM_steerAngle"}}},"order":{"field":"t","type":"quantitative"}}}],"resolve":{"axis":{"x":"independent","y":"independent"}}},

    {"layer":[{"mark":{"type":"point","opacity":0},"encoding":{"x":{"field":"projectedCTE","type":"quantitative","scale":{"domain":[-2.35,2.1]},"title":null,"axis":{"orient":"top","values":{"expr":"xm_projectedCTE"}}},"y":{"field":"CTE","type":"quantitative","scale":{"domain":[-6.15,5.05]},"title":null,"axis":{"orient":"right","values":{"expr":"ym_CTE"}}}}},{"mark":{"type":"line","strokeWidth":6.5},"encoding":{"x":{"field":"projectedCTE","type":"quantitative","axis":{"values":{"expr":"xM_projectedCTE"}}},"y":{"field":"CTE","type":"quantitative","axis":{"values":{"expr":"yM_CTE"}}},"order":{"field":"t","type":"quantitative"}}}],"resolve":{"axis":{"x":"independent","y":"independent"}}},
    {"layer":[{"mark":{"type":"point","opacity":0},"encoding":{"x":{"field":"projectedCTE","type":"quantitative","scale":{"domain":[-2.35,2.1]},"title":null,"axis":{"orient":"top","values":{"expr":"xm_projectedCTE"}}},"y":{"field":"curvature","type":"quantitative","scale":{"domain":[-2.8,4]},"title":null,"axis":{"orient":"right","values":{"expr":"ym_curvature"}}}}},{"mark":{"type":"line","strokeWidth":4.5},"encoding":{"x":{"field":"projectedCTE","type":"quantitative","axis":{"values":{"expr":"xM_projectedCTE"}}},"y":{"field":"curvature","type":"quantitative","axis":{"values":{"expr":"yM_curvature"}}},"order":{"field":"t","type":"quantitative"}}}],"resolve":{"axis":{"x":"independent","y":"independent"}}},
    {"layer":[{"mark":{"type":"point","opacity":0},"encoding":{"x":{"field":"projectedCTE","type":"quantitative","scale":{"domain":[-2.35,2.1]},"title":null,"axis":{"orient":"top","values":{"expr":"xm_projectedCTE"}}},"y":{"field":"HeadingError","type":"quantitative","scale":{"domain":[-6.5,5.15]},"title":null,"axis":{"orient":"right","values":{"expr":"ym_HeadingError"}}}}},{"mark":{"type":"line","strokeWidth":5},"encoding":{"x":{"field":"projectedCTE","type":"quantitative","axis":{"values":{"expr":"xM_projectedCTE"}}},"y":{"field":"HeadingError","type":"quantitative","axis":{"values":{"expr":"yM_HeadingError"}}},"order":{"field":"t","type":"quantitative"}}}],"resolve":{"axis":{"x":"independent","y":"independent"}}},
    {"layer":[{"mark":{"type":"point","opacity":0},"encoding":{"x":{"field":"projectedCTE","type":"quantitative","scale":{"domain":[-2.35,2.1]},"title":null,"axis":{"orient":"top","values":{"expr":"xm_projectedCTE"}}},"y":{"field":"lookAhead1","type":"quantitative","scale":{"domain":[-2.55,3.45]},"title":null,"axis":{"orient":"right","values":{"expr":"ym_lookAhead1"}}}}},{"mark":{"type":"line","strokeWidth":4.5},"encoding":{"x":{"field":"projectedCTE","type":"quantitative","axis":{"values":{"expr":"xM_projectedCTE"}}},"y":{"field":"lookAhead1","type":"quantitative","axis":{"values":{"expr":"yM_lookAhead1"}}},"order":{"field":"t","type":"quantitative"}}}],"resolve":{"axis":{"x":"independent","y":"independent"}}},
    {"layer":[{"mark":{"type":"point","opacity":0},"encoding":{"x":{"field":"projectedCTE","type":"quantitative","scale":{"domain":[-2.35,2.1]},"title":null,"axis":{"orient":"top","values":{"expr":"xm_projectedCTE"}}},"y":{"field":"projectedCTE","type":"quantitative","scale":{"domain":[-2.35,2.1]},"title":null,"axis":{"orient":"right","values":{"expr":"ym_projectedCTE"}}}}},{"mark":{"type":"line","strokeWidth":3.4},"encoding":{"x":{"field":"projectedCTE","type":"quantitative","axis":{"values":{"expr":"xM_projectedCTE"}}},"y":{"field":"projectedCTE","type":"quantitative","axis":{"values":{"expr":"yM_projectedCTE"}}},"order":{"field":"t","type":"quantitative"}}}],"resolve":{"axis":{"x":"independent","y":"independent"}}},
    {"layer":[{"mark":{"type":"point","opacity":0},"encoding":{"x":{"field":"projectedCTE","type":"quantitative","scale":{"domain":[-2.35,2.1]},"title":null,"axis":{"orient":"top","values":{"expr":"xm_projectedCTE"}}},"y":{"field":"steerAngle","type":"quantitative","scale":{"domain":[-1,1]},"title":null,"axis":{"orient":"right","values":{"expr":"ym_steerAngle"}}}}},{"mark":{"type":"line","strokeWidth":6},"encoding":{"x":{"field":"projectedCTE","type":"quantitative","axis":{"values":{"expr":"xM_projectedCTE"}}},"y":{"field":"steerAngle","type":"quantitative","axis":{"values":{"expr":"yM_steerAngle"}}},"order":{"field":"t","type":"quantitative"}}}],"resolve":{"axis":{"x":"independent","y":"independent"}}},

    {"layer":[{"mark":{"type":"point","opacity":0},"encoding":{"x":{"field":"steerAngle","type":"quantitative","scale":{"domain":[-1,1]},"title":null,"axis":{"orient":"top","values":{"expr":"xm_steerAngle"}}},"y":{"field":"CTE","type":"quantitative","scale":{"domain":[-6.15,5.05]},"title":null,"axis":{"orient":"right","values":{"expr":"ym_CTE"}}}}},{"mark":{"type":"line","strokeWidth":6.5},"encoding":{"x":{"field":"steerAngle","type":"quantitative","axis":{"values":{"expr":"xM_steerAngle"}}},"y":{"field":"CTE","type":"quantitative","axis":{"values":{"expr":"yM_CTE"}}},"order":{"field":"t","type":"quantitative"}}}],"resolve":{"axis":{"x":"independent","y":"independent"}}},
    {"layer":[{"mark":{"type":"point","opacity":0},"encoding":{"x":{"field":"steerAngle","type":"quantitative","scale":{"domain":[-1,1]},"title":null,"axis":{"orient":"top","values":{"expr":"xm_steerAngle"}}},"y":{"field":"curvature","type":"quantitative","scale":{"domain":[-2.8,4]},"title":null,"axis":{"orient":"right","values":{"expr":"ym_curvature"}}}}},{"mark":{"type":"line","strokeWidth":6},"encoding":{"x":{"field":"steerAngle","type":"quantitative","axis":{"values":{"expr":"xM_steerAngle"}}},"y":{"field":"curvature","type":"quantitative","axis":{"values":{"expr":"yM_curvature"}}},"order":{"field":"t","type":"quantitative"}}}],"resolve":{"axis":{"x":"independent","y":"independent"}}},
    {"layer":[{"mark":{"type":"point","opacity":0},"encoding":{"x":{"field":"steerAngle","type":"quantitative","scale":{"domain":[-1,1]},"title":null,"axis":{"orient":"top","values":{"expr":"xm_steerAngle"}}},"y":{"field":"HeadingError","type":"quantitative","scale":{"domain":[-6.5,5.15]},"title":null,"axis":{"orient":"right","values":{"expr":"ym_HeadingError"}}}}},{"mark":{"type":"line","strokeWidth":6},"encoding":{"x":{"field":"steerAngle","type":"quantitative","axis":{"values":{"expr":"xM_steerAngle"}}},"y":{"field":"HeadingError","type":"quantitative","axis":{"values":{"expr":"yM_HeadingError"}}},"order":{"field":"t","type":"quantitative"}}}],"resolve":{"axis":{"x":"independent","y":"independent"}}},
    {"layer":[{"mark":{"type":"point","opacity":0},"encoding":{"x":{"field":"steerAngle","type":"quantitative","scale":{"domain":[-1,1]},"title":null,"axis":{"orient":"top","values":{"expr":"xm_steerAngle"}}},"y":{"field":"lookAhead1","type":"quantitative","scale":{"domain":[-2.55,3.45]},"title":null,"axis":{"orient":"right","values":{"expr":"ym_lookAhead1"}}}}},{"mark":{"type":"line","strokeWidth":6},"encoding":{"x":{"field":"steerAngle","type":"quantitative","axis":{"values":{"expr":"xM_steerAngle"}}},"y":{"field":"lookAhead1","type":"quantitative","axis":{"values":{"expr":"yM_lookAhead1"}}},"order":{"field":"t","type":"quantitative"}}}],"resolve":{"axis":{"x":"independent","y":"independent"}}},
    {"layer":[{"mark":{"type":"point","opacity":0},"encoding":{"x":{"field":"steerAngle","type":"quantitative","scale":{"domain":[-1,1]},"title":null,"axis":{"orient":"top","values":{"expr":"xm_steerAngle"}}},"y":{"field":"projectedCTE","type":"quantitative","scale":{"domain":[-2.35,2.1]},"title":null,"axis":{"orient":"right","values":{"expr":"ym_projectedCTE"}}}}},{"mark":{"type":"line","strokeWidth":6},"encoding":{"x":{"field":"steerAngle","type":"quantitative","axis":{"values":{"expr":"xM_steerAngle"}}},"y":{"field":"projectedCTE","type":"quantitative","axis":{"values":{"expr":"yM_projectedCTE"}}},"order":{"field":"t","type":"quantitative"}}}],"resolve":{"axis":{"x":"independent","y":"independent"}}},
    {"layer":[{"mark":{"type":"point","opacity":0},"encoding":{"x":{"field":"steerAngle","type":"quantitative","scale":{"domain":[-1,1]},"title":null,"axis":{"orient":"top","values":{"expr":"xm_steerAngle"}}},"y":{"field":"steerAngle","type":"quantitative","scale":{"domain":[-1,1]},"title":null,"axis":{"orient":"right","values":{"expr":"ym_steerAngle"}}}}},{"mark":{"type":"line","strokeWidth":3.4},"encoding":{"x":{"field":"steerAngle","type":"quantitative","axis":{"values":{"expr":"xM_steerAngle"}}},"y":{"field":"steerAngle","type":"quantitative","axis":{"values":{"expr":"yM_steerAngle"}}},"order":{"field":"t","type":"quantitative"}}}],"resolve":{"axis":{"x":"independent","y":"independent"}}}
  ],
  "config": {
    "font": "Liberation Sans",
    "view": {"stroke": null, "continuousWidth": 195, "continuousHeight": 88},
    "axis": {
      "labelFontSize": 10, "labelColor": "#262626", "labelPadding": 5,
      "labelFlush": false, "labelOverlap": false, "labelBound": false,
      "labelExpr": "'' + datum.value",
      "titleFontSize": 11, "titleFontWeight": "normal", "titleColor": "#262626", "titlePadding": 4,
      "ticks": false, "domainColor": "#262626", "domainWidth": 1
    },
    "axisBottom": {"grid": true, "gridColor": "#d3d3d3", "gridWidth": 1},
    "axisLeft": {"grid": true, "gridColor": "#d3d3d3", "gridWidth": 1},
    "axisTop": {"domain": false, "labels": false, "ticks": false, "grid": true, "gridDash": [2, 2.5], "gridColor": "#cfcfcf", "gridWidth": 0.8},
    "axisRight": {"domain": false, "labels": false, "ticks": false, "grid": true, "gridDash": [2, 2.5], "gridColor": "#cfcfcf", "gridWidth": 0.8},
    "line": {"color": "#0072BD", "strokeWidth": 3.4, "strokeCap": "round", "strokeJoin": "round", "interpolate": "catmull-rom"}
  }
}
